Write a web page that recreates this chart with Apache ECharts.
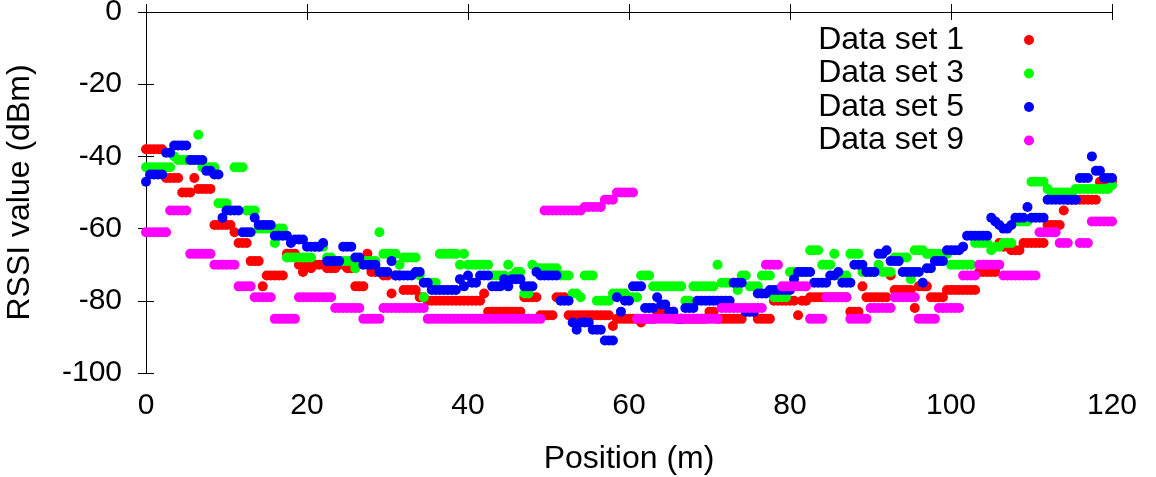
<!DOCTYPE html>
<html>
<head>
<meta charset="utf-8">
<script src="https://cdn.jsdelivr.net/npm/echarts@6/dist/echarts.min.js"></script>
<style>
  html, body { margin: 0; padding: 0; background: #fff; }
  #chart { width: 1156px; height: 477px; }
</style>
</head>
<body>
<div id="chart"></div>
<script>
// measurement positions every 0.5 m along the corridor
const positionStep = 0.5
const xTicks = [0, 20, 40, 60, 80, 100, 120]
const yTicks = [-100, -80, -60, -40, -20, 0]
const seriesNames = ['Data set 1', 'Data set 3', 'Data set 5', 'Data set 9']
const seriesColors = ['#ff0000', '#00ff00', '#0000ff', '#ff00ff']

// RSSI (dBm), one value per position, 20 values per 10 m row
const set1 = [
  -38, -38, -38, -38, -38, -46, -46, -46, -46, -50, -50, -50, -46, -49, -49, -49, -49, -59, -59, -59,
  -59, -59, -61, -64, -64, -64, -69, -69, -69, -76, -73, -73, -73, -73, -73, -67, -67, -67, -70, -72,
  -70, -71, -70, -70, -70, -71, -71, -71, -70, -70, -71, -71, -76, -76, -76, -67, -72, -72, -72, -73,
  -73, -78, -73, -73, -77, -77, -77, -77, -79, -79, -80, -80, -80, -80, -80, -80, -80, -80, -80, -80,
  -80, -80, -80, -80, -78, -83, -83, -83, -83, -83, -83, -83, -83, -83, -79, -79, -79, -79, -84, -84,
  -84, -84, -79, -79, -79, -84, -84, -84, -84, -84, -84, -84, -84, -84, -84, -84, -87, -85, -85, -85,
  -85, -85, -85, -86, -85, -85, -85, -83, -83, -83, -83, -83, -85, -85, -85, -85, -85, -85, -85, -85,
  -83, -83, -85, -85, -85, -85, -85, -85, -85, -83, -83, -83, -85, -85, -85, -85, -80, -80, -80, -80,
  -80, -80, -84, -80, -80, -79, -79, -79, -79, -79, -79, -79, -79, -79, -79, -83, -83, -83, -76, -79,
  -79, -79, -79, -79, -79, -73, -77, -77, -77, -77, -77, -82, -76, -76, -76, -79, -79, -79, -79, -77,
  -77, -77, -77, -77, -77, -77, -77, -72, -72, -72, -72, -72, -64, -65, -65, -66, -66, -66, -64, -64,
  -64, -64, -64, -64, -59, -59, -59, -59, -55, -52, -52, -52, -52, -52, -52, -52, -52, -47, -47, -47,
  -47
]
const set3 = [
  -43, -43, -43, -43, -43, -43, -43, -40, -41, -41, -41, -41, -41, -34, -43, -43, -43, -43, -53, -53,
  -53, -55, -43, -43, -43, -55, -55, -55, -60, -60, -60, -60, -64, -60, -60, -68, -68, -68, -68, -68,
  -68, -68, -65, -65, -65, -68, -68, -69, -69, -69, -69, -69, -71, -69, -69, -69, -69, -69, -61, -67,
  -67, -67, -67, -70, -68, -68, -68, -68, -73, -79, -75, -75, -75, -67, -67, -67, -67, -67, -70, -67,
  -70, -70, -70, -70, -70, -70, -73, -73, -73, -73, -70, -73, -72, -72, -78, -78, -70, -71, -71, -71,
  -71, -71, -71, -73, -73, -73, -78, -78, -79, -73, -73, -73, -80, -80, -80, -80, -78, -78, -78, -78,
  -79, -79, -79, -73, -73, -73, -76, -76, -76, -76, -76, -76, -76, -76, -80, -80, -76, -76, -76, -76,
  -76, -76, -70, -75, -75, -75, -75, -77, -73, -73, -76, -76, -76, -73, -73, -73, -79, -79, -79, -79,
  -72, -72, -72, -72, -72, -66, -66, -66, -70, -70, -70, -67, -73, -73, -73, -67, -67, -67, -72, -72,
  -72, -72, -70, -72, -72, -72, -68, -68, -68, -68, -74, -66, -66, -66, -67, -67, -67, -67, -67, -67,
  -70, -70, -70, -70, -70, -70, -64, -64, -64, -64, -66, -65, -65, -64, -64, -64, -58, -58, -58, -58,
  -47, -47, -47, -47, -49, -50, -50, -50, -50, -50, -50, -49, -49, -49, -49, -49, -49, -49, -49, -49,
  -48
]
const set5 = [
  -47, -45, -45, -45, -45, -39, -39, -37, -37, -37, -37, -41, -41, -41, -41, -44, -44, -45, -45, -57,
  -55, -55, -55, -55, -61, -61, -61, -57, -59, -59, -59, -59, -62, -62, -62, -62, -64, -63, -63, -63,
  -65, -65, -65, -65, -64, -69, -69, -69, -69, -65, -65, -65, -68, -68, -70, -70, -70, -70, -72, -72,
  -72, -69, -73, -73, -73, -73, -73, -72, -72, -75, -75, -77, -77, -77, -77, -77, -77, -77, -74, -76,
  -73, -75, -75, -73, -73, -73, -76, -76, -76, -74, -76, -74, -74, -74, -76, -76, -76, -72, -73, -73,
  -73, -73, -73, -80, -80, -80, -86, -88, -86, -86, -86, -88, -88, -88, -91, -91, -91, -79, -83, -80,
  -80, -76, -76, -76, -82, -82, -82, -79, -81, -81, -83, -83, -85, -85, -82, -82, -82, -80, -80, -80,
  -80, -80, -80, -80, -80, -80, -75, -75, -75, -83, -83, -83, -78, -78, -78, -77, -77, -77, -77, -77,
  -77, -74, -72, -72, -72, -72, -75, -75, -75, -75, -73, -73, -72, -75, -75, -75, -70, -70, -70, -72,
  -72, -72, -67, -67, -66, -69, -69, -69, -72, -72, -72, -72, -72, -75, -71, -71, -69, -69, -69, -66,
  -66, -66, -66, -65, -62, -62, -62, -62, -62, -62, -57, -58, -59, -60, -60, -59, -57, -57, -57, -54,
  -57, -57, -57, -57, -52, -52, -52, -52, -52, -52, -52, -52, -46, -46, -46, -40, -44, -44, -46, -46,
  -46
]
const set9 = [
  -61, -61, -61, -61, -61, -61, -55, -55, -55, -55, -55, -67, -67, -67, -67, -67, -67, -70, -70, -70,
  -70, -70, -70, -76, -76, -76, -76, -79, -79, -79, -79, -79, -85, -85, -85, -85, -85, -85, -79, -79,
  -79, -79, -79, -79, -79, -79, -79, -82, -82, -82, -82, -82, -82, -82, -85, -85, -85, -85, -85, -82,
  -82, -82, -82, -82, -82, -82, -82, -82, -82, -82, -85, -85, -85, -85, -85, -85, -85, -85, -85, -85,
  -85, -85, -85, -85, -85, -85, -85, -85, -85, -85, -85, -85, -85, -85, -85, -85, -85, -85, -85, -55,
  -55, -55, -55, -55, -55, -55, -55, -55, -55, -54, -54, -54, -54, -54, -52, -52, -52, -50, -50, -50,
  -50, -50, -85, -85, -85, -85, -85, -85, -85, -85, -85, -85, -85, -85, -85, -85, -85, -85, -85, -85,
  -85, -85, -85, -82, -82, -82, -82, -82, -82, -82, -82, -82, -82, -82, -70, -70, -70, -70, -76, -76,
  -76, -76, -76, -76, -76, -85, -85, -85, -85, -79, -79, -79, -79, -79, -79, -85, -85, -85, -85, -85,
  -82, -82, -82, -82, -82, -82, -79, -79, -79, -79, -79, -79, -85, -85, -85, -85, -85, -82, -82, -82,
  -82, -82, -82, -73, -73, -73, -73, -70, -70, -70, -70, -70, -70, -73, -73, -73, -73, -73, -73, -73,
  -73, -73, -61, -61, -61, -61, -61, -64, -64, -64, null, null, -64, -64, -64, -58, -58, -58, -58, -58,
  -58
]

function toPoints (values) {
  const pts = []
  for (let i = 0; i < values.length; i++) {
    if (values[i] === null) continue
    pts.push([i * positionStep, values[i]])
  }
  return pts
}

const font = 'Liberation Sans'
const fs = 30 // tick labels
const fsBig = 32 // legend and axis names

const chart = echarts.init(document.getElementById('chart'))
const sets = [set1, set3, set5, set9]

const option = {
  animation: false,
  textStyle: { fontFamily: font },
  grid: { left: 146, right: 44, top: 12, bottom: 104, outerBoundsMode: 'none' },
  legend: {
    orient: 'vertical',
    right: 117,
    top: 19,
    align: 'right',
    itemWidth: 10,
    itemHeight: 10,
    itemGap: 1.5,
    icon: 'circle',
    textStyle: { fontSize: fsBig, color: '#000', fontFamily: font, padding: [0, 55, 0, 0] },
    data: seriesNames
  },
  xAxis: [
    {
      type: 'value',
      min: 0,
      max: 120,
      interval: 20,
      name: 'Position (m)',
      nameLocation: 'middle',
      nameGap: 70,
      nameTextStyle: { fontSize: fsBig, color: '#000', fontFamily: font },
      axisLine: { lineStyle: { color: '#000', width: 1 } },
      axisTick: { inside: true, length: 8, lineStyle: { color: '#000' } },
      axisLabel: {
        fontSize: fs, color: '#000', fontFamily: font, margin: 18,
        formatter: v => xTicks.includes(v) ? String(v) : ''
      },
      splitLine: { show: false }
    },
    {
      type: 'value',
      position: 'top',
      min: 0,
      max: 120,
      interval: 20,
      axisLine: { lineStyle: { color: '#000', width: 1 } },
      axisTick: { inside: true, length: 8, lineStyle: { color: '#000' } },
      axisLabel: { show: false },
      splitLine: { show: false }
    }
  ],
  yAxis: [
    {
      type: 'value',
      min: -100,
      max: 0,
      interval: 20,
      name: 'RSSI value (dBm)',
      nameLocation: 'middle',
      nameGap: 110,
      nameTextStyle: { fontSize: fsBig, color: '#000', fontFamily: font },
      axisLine: { show: true, lineStyle: { color: '#000', width: 1 } },
      axisTick: { show: true, inside: true, length: 8, lineStyle: { color: '#000' } },
      axisLabel: {
        fontSize: fs, color: '#000', fontFamily: font, margin: 24,
        formatter: v => yTicks.includes(v) ? String(v) : ''
      },
      splitLine: { show: false }
    },
    {
      type: 'value',
      position: 'right',
      min: -100,
      max: 0,
      interval: 20,
      axisLine: { show: true, lineStyle: { color: '#000', width: 1 } },
      axisTick: { show: true, inside: true, length: 8, lineStyle: { color: '#000' } },
      axisLabel: { show: false },
      splitLine: { show: false }
    }
  ],
  series: seriesNames.map((name, k) => ({
    name: name,
    type: 'scatter',
    xAxisIndex: 0,
    yAxisIndex: 0,
    symbol: 'circle',
    symbolSize: 10,
    itemStyle: { color: seriesColors[k], opacity: 1 },
    emphasis: { disabled: true },
    data: toPoints(sets[k])
  }))
}

chart.setOption(option)
</script>
</body>
</html>
